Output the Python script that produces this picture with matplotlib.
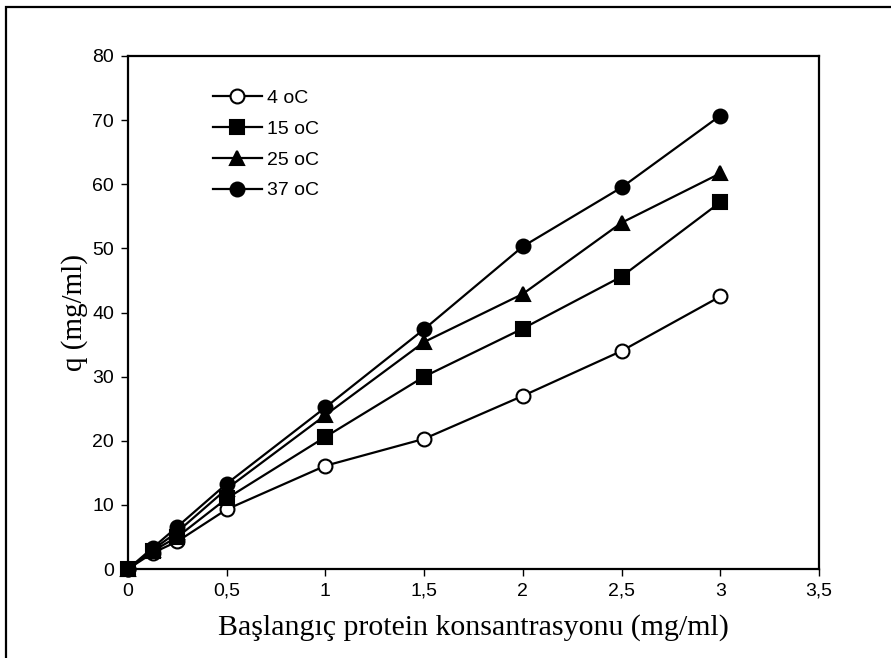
"""Adsorbed protein q vs. initial protein concentration at four temperatures."""
import matplotlib
matplotlib.use('Agg')
import matplotlib.pyplot as plt
from matplotlib.patches import Rectangle

conc = [0, 0.125, 0.25, 0.5, 1, 1.5, 2, 2.5, 3]
q_4 = [0, 2.5, 4.3, 9.3, 16.1, 20.3, 27.0, 34.0, 42.5]
q_15 = [0, 2.8, 5.0, 11.0, 20.6, 30.0, 37.5, 45.6, 57.2]
q_25 = [0, 3.0, 5.8, 12.5, 24.0, 35.4, 42.9, 54.0, 61.7]
q_37 = [0, 3.3, 6.6, 13.3, 25.2, 37.4, 50.3, 59.5, 70.7]
labels = ['4 oC', '15 oC', '25 oC', '37 oC']

SANS = ['Liberation Sans', 'DejaVu Sans']
SERIF = ['Liberation Serif', 'DejaVu Serif']

fig = plt.figure(figsize=(8.91, 6.58), dpi=100)
# chart-area frame, runs off the right and bottom edges
fig.patches.append(Rectangle((5.5 / 891, -0.05), 1.1, 1.05 - 6.5 / 658,
                             transform=fig.transFigure, fill=False,
                             edgecolor='black', linewidth=1.6))

ax = fig.add_axes([128 / 891, 1 - 569 / 658, (819 - 128) / 891, (569 - 56) / 658])

styles = [
    dict(marker='o', markerfacecolor='white'),
    dict(marker='s', markerfacecolor='black'),
    dict(marker='^', markerfacecolor='black'),
    dict(marker='o', markerfacecolor='black'),
]
for ys, lab, st in zip([q_4, q_15, q_25, q_37], labels, styles):
    ax.plot(conc, ys, color='black', linewidth=1.6, markersize=10,
            markeredgecolor='black', markeredgewidth=1.5, label=lab,
            clip_on=False, **st)

ax.set_xlim(0, 3.5)
ax.set_ylim(0, 80)
ax.set_xticks([0, 0.5, 1, 1.5, 2, 2.5, 3, 3.5])
ax.set_xticklabels(['0', '0,5', '1', '1,5', '2', '2,5', '3', '3,5'])
ax.set_yticks(range(0, 81, 10))
for lbl in ax.get_xticklabels() + ax.get_yticklabels():
    lbl.set_family(SANS)
    lbl.set_fontsize(14)
ax.tick_params(direction='out', length=5, width=1, pad=5)
for sp in ax.spines.values():
    sp.set_linewidth(1.6)

ax.set_xlabel('Başlangıç protein konsantrasyonu (mg/ml)', family=SERIF,
              fontsize=21.5, labelpad=10)
ax.set_ylabel('q (mg/ml)', family=SERIF, fontsize=21, labelpad=3)

ax.legend(loc='upper left', bbox_to_anchor=(0.123, 0.935), frameon=False,
          prop={'family': SANS, 'size': 14}, handlelength=2.5,
          handletextpad=0.3, labelspacing=0.68, borderpad=0, borderaxespad=0)

fig.savefig('out.png', dpi=100)
